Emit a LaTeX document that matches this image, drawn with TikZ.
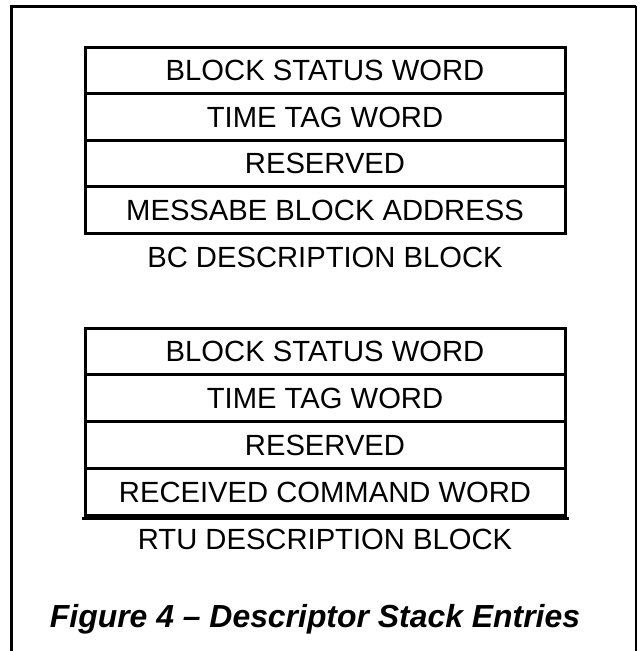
\documentclass[tikz,border=0pt]{standalone}
\usepackage{fontspec}
\setmainfont{Liberation Sans}
\begin{document}
\begin{tikzpicture}[x=1pt,y=-1pt,
  rowbox/.style={draw,line width=3pt,minimum width=480pt,minimum height=#1,inner sep=0pt,
    font=\fontsize{29.2}{31}\selectfont,text height=20.9pt,text depth=0pt},
  blocklabel/.style={inner sep=0pt,font=\fontsize{29.2}{31}\selectfont,text height=20.9pt,text depth=0pt},
  captionlabel/.style={inner sep=0pt,font=\fontsize{31.9}{34}\selectfont\bfseries\itshape,text height=22.9pt,text depth=0pt}]
\useasboundingbox (0,0) rectangle (640,651);
% outer frame (open at the bottom)
\draw[line width=3pt] (11.7,651) -- (11.7,6.2) -- (636,6.2);
\draw[line width=1.5pt] (636,6.2) -- (636,651);
% BC descriptor block
\node[rowbox=46.5pt] (bc1) at (325,70.25) {BLOCK STATUS WORD};
\node[rowbox=46.5pt] (bc2) at (325,116.75) {TIME TAG WORD};
\node[rowbox=46.5pt] (bc3) at (325,163.25) {RESERVED};
\node[rowbox=46.5pt] (bc4) at (325,209.75) {MESSABE BLOCK ADDRESS};
\node[blocklabel] (bcl) at (325,257) {BC DESCRIPTION BLOCK};
% RTU descriptor block
\node[rowbox=46.75pt] (rt1) at (325,351.375) {BLOCK STATUS WORD};
\node[rowbox=46.75pt] (rt2) at (325,398.125) {TIME TAG WORD};
\node[rowbox=46.75pt] (rt3) at (325,444.875) {RESERVED};
\node[rowbox=46.75pt] (rt4) at (325,491.625) {RECEIVED COMMAND WORD};
\draw[line width=3pt] ([xshift=-2pt,yshift=-1.5pt]rt4.south west) -- ([xshift=2pt,yshift=-1.5pt]rt4.south east);
\node[blocklabel] (rtl) at (325,539) {RTU DESCRIPTION BLOCK};
% caption
\node[captionlabel] (cap) at (315,616) {Figure 4 – Descriptor Stack Entries};
\end{tikzpicture}
\end{document}
